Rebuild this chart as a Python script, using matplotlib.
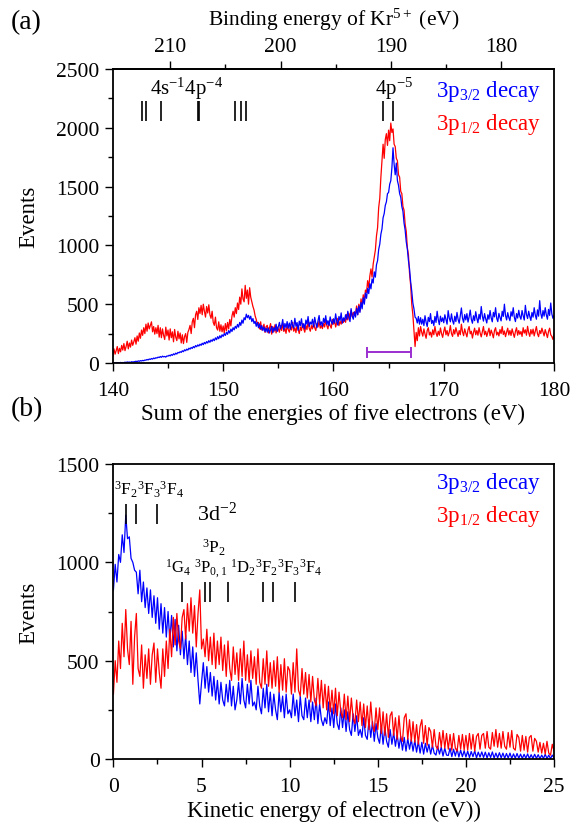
"""
Kr 3p decay spectra: sum energy of five electrons (a) and kinetic energy
of a single electron (b) for the 3p3/2 and 3p1/2 decay channels.
"""

import numpy as np
import matplotlib
matplotlib.use("Agg")
import matplotlib.pyplot as plt
from matplotlib.ticker import MultipleLocator


# ---- panel (a): sum of energies, 140..180 eV in 0.1 eV steps ----
sum_energy = np.linspace(140.0, 180.0, 401)

sum_red = [
    60, 120, 75, 105, 140, 80, 125, 95, 150, 110,
    165, 105, 140, 185, 120, 170, 135, 195, 150, 180,
    215, 160, 230, 185, 255, 210, 280, 235, 300, 250,
    330, 270, 340, 290, 320, 350, 265, 310, 245, 300,
    250, 320, 220, 300, 215, 290, 235, 200, 305, 230,
    280, 195, 290, 215, 265, 180, 285, 220, 190, 270,
    205, 255, 170, 240, 165, 225, 250, 175, 260, 285,
    320, 250, 350, 380, 300, 410, 440, 370, 470, 420,
    490, 410, 500, 440, 390, 480, 425, 495, 410, 380,
    440, 345, 320, 390, 300, 280, 350, 270, 325, 265,
    315, 255, 335, 275, 345, 290, 370, 315, 400, 440,
    390, 470, 420, 510, 455, 560, 500, 630, 545, 520,
    660, 550, 620, 500, 640, 560, 520, 480, 450, 400,
    370, 330, 345, 290, 350, 280, 300, 330, 260, 310,
    320, 255, 300, 335, 245, 310, 265, 325, 255, 305,
    290, 262, 318, 276, 340, 268, 296, 252, 318, 284,
    262, 310, 280, 346, 270, 300, 258, 322, 286, 250,
    306, 276, 334, 292, 262, 318, 284, 352, 296, 270,
    318, 290, 348, 300, 276, 336, 306, 360, 296, 318,
    292, 338, 306, 366, 318, 290, 352, 318, 296, 370,
    330, 360, 306, 346, 380, 318, 356, 330, 372, 344,
    380, 346, 412, 366, 424, 380, 446, 392, 430, 406,
    420, 485, 410, 500, 440, 545, 480, 580, 520, 620,
    600, 700, 640, 740, 800, 730, 840, 900, 960, 1080,
    1150, 1320, 1400, 1580, 1720, 1860, 1740, 1900, 1950, 1850,
    1980, 1890, 2040, 1960, 1990, 1860, 1840, 1740, 1720, 1600,
    1580, 1460, 1440, 1330, 1300, 1180, 1120, 980, 920, 760,
    660, 500, 410, 280, 140, 260, 190, 300, 230, 310,
    262, 228, 290, 246, 210, 276, 300, 238, 262, 220,
    282, 240, 310, 256, 226, 270, 236, 298, 250, 218,
    268, 306, 240, 276, 230, 262, 318, 250, 226, 284,
    246, 300, 262, 226, 276, 240, 330, 266, 232, 290,
    254, 222, 282, 310, 248, 270, 212, 260, 296, 240,
    276, 236, 300, 254, 222, 268, 310, 240, 270, 226,
    262, 296, 232, 280, 250, 214, 276, 300, 238, 262,
    230, 284, 250, 310, 242, 272, 224, 262, 296, 238,
    276, 234, 290, 252, 218, 268, 300, 236, 276, 244,
    268, 226, 300, 254, 282, 236, 312, 258, 226, 284,
    246, 288, 230, 270, 310, 248, 224, 276, 250, 296,
    262, 230, 284, 250, 216, 268, 296, 240, 226, 200,
    250,
]

sum_blue = [
    0, 2, 0, 4, 1, 3, 0, 5, 2, 4,
    3, 7, 4, 9, 6, 8, 5, 11, 8, 10,
    12, 15, 11, 18, 14, 20, 17, 22, 19, 25,
    24, 30, 26, 34, 30, 38, 33, 42, 37, 45,
    42, 50, 46, 55, 48, 58, 52, 56, 50, 60,
    58, 66, 60, 72, 65, 78, 70, 84, 76, 90,
    86, 96, 90, 104, 96, 112, 104, 118, 110, 126,
    118, 132, 124, 140, 130, 148, 138, 154, 144, 160,
    150, 168, 156, 175, 163, 182, 170, 190, 176, 196,
    184, 204, 190, 214, 198, 224, 206, 232, 214, 240,
    226, 250, 234, 262, 244, 275, 255, 288, 268, 300,
    282, 312, 295, 328, 305, 345, 320, 365, 338, 385,
    368, 415, 385, 405, 372, 398, 352, 378, 336, 355,
    312, 345, 300, 332, 286, 318, 276, 306, 266, 296,
    262, 298, 255, 284, 312, 258, 300, 276, 330, 268,
    305, 345, 290, 318, 370, 282, 336, 300, 352, 296,
    340, 288, 362, 318, 296, 380, 312, 344, 278, 356,
    318, 376, 302, 334, 290, 365, 330, 395, 310, 348,
    330, 372, 306, 388, 338, 300, 360, 404, 322, 350,
    312, 380, 344, 402, 326, 360, 318, 392, 352, 330,
    376, 340, 418, 352, 322, 396, 362, 426, 338, 384,
    356, 410, 372, 440, 388, 352, 462, 398, 372, 436,
    390, 465, 410, 485, 430, 515, 460, 555, 500, 595,
    550, 635, 590, 675, 630, 715, 680, 775, 730, 835,
    870, 965, 1010, 1095, 1140, 1235, 1270, 1340, 1370, 1440,
    1450, 1520, 1550, 1660, 1830, 1690, 1600, 1700, 1550, 1510,
    1440, 1410, 1330, 1290, 1190, 1130, 1030, 970, 870, 800,
    690, 610, 510, 460, 390, 380, 340, 395, 330, 385,
    330, 372, 318, 402, 346, 310, 388, 352, 420, 336,
    362, 318, 396, 345, 440, 370, 326, 398, 352, 384,
    342, 410, 368, 330, 445, 382, 350, 418, 360, 330,
    398, 352, 430, 372, 338, 400, 468, 380, 346, 412,
    366, 420, 348, 392, 450, 372, 338, 402, 360, 436,
    380, 342, 414, 372, 480, 398, 356, 420, 376, 340,
    410, 372, 446, 384, 350, 430, 392, 470, 380, 352,
    422, 386, 358, 440, 396, 500, 404, 366, 428, 386,
    360, 436, 398, 470, 388, 352, 420, 382, 448, 396,
    372, 446, 402, 365, 490, 412, 378, 440, 396, 362,
    430, 390, 470, 408, 372, 452, 398, 530, 420, 380,
    446, 398, 470, 410, 372, 456, 404, 510, 418, 380,
    400,
]

# ---- panel (b): electron kinetic energy, 0..25 eV in 0.1 eV steps ----
kinetic_energy = np.linspace(0.0, 25.0, 251)

kin_blue = [
    860, 990, 900, 1040, 1000, 1140, 1050, 1240, 1120, 1130,
    1020, 1000, 960, 950, 840, 960, 800, 900, 770, 870,
    740, 860, 720, 830, 690, 820, 660, 790, 640, 770,
    620, 750, 600, 730, 570, 710, 550, 680, 530, 650,
    510, 630, 480, 600, 440, 570, 420, 540, 400, 280,
    390, 490, 360, 470, 340, 440, 320, 420, 300, 400,
    280, 390, 300, 270, 380, 290, 400, 270, 370, 250,
    300, 390, 280, 410, 300, 260, 380, 280, 400, 270,
    290, 250, 370, 270, 230, 360, 260, 380, 240, 340,
    220, 330, 250, 200, 340, 240, 320, 210, 330, 230,
    250, 210, 330, 220, 300, 190, 320, 220, 200, 310,
    210, 300, 190, 290, 200, 310, 180, 280, 200, 170,
    210, 180, 290, 170, 260, 160, 280, 180, 150, 260,
    160, 250, 140, 240, 150, 120, 230, 140, 220, 120,
    150, 110, 210, 120, 100, 200, 110, 190, 90, 180,
    110, 80, 170, 75, 160, 90, 60, 150, 75, 135,
    65, 125, 55, 115, 45, 110, 40, 105, 50, 100,
    40, 95, 35, 90, 30, 85, 25, 80, 35, 75,
    25, 70, 30, 20, 65, 25, 60, 15, 55, 20,
    18, 55, 12, 50, 15, 52, 10, 45, 12, 42,
    10, 40, 8, 38, 12, 42, 6, 35, 10, 36,
    8, 35, 5, 32, 8, 36, 5, 30, 6, 32,
    6, 30, 4, 28, 5, 30, 3, 26, 4, 28,
    4, 25, 3, 24, 4, 26, 2, 22, 3, 24,
    3, 22, 2, 20, 3, 24, 2, 20, 2, 20,
    5,
]

kin_red = [
    330, 500, 390, 600, 460, 690, 520, 760, 560, 480,
    700, 380, 620, 740, 460, 420, 580, 360, 530, 410,
    560, 380, 530, 590, 390, 560, 440, 360, 560, 420,
    600, 460, 660, 520, 720, 580, 740, 600, 560, 720,
    760, 610, 790, 650, 820, 640, 780, 570, 740, 860,
    560, 610, 520, 660, 500, 620, 480, 640, 460, 600,
    480, 620, 450, 580, 420, 600, 460, 400, 570, 430,
    540, 400, 560, 420, 600, 400, 530, 390, 550, 410,
    520, 380, 560, 390, 360, 510, 380, 550, 370, 490,
    360, 500, 370, 520, 340, 480, 350, 510, 340, 470,
    450, 330, 490, 340, 560, 350, 320, 460, 330, 440,
    310, 430, 290, 420, 300, 270, 410, 280, 400, 260,
    380, 250, 370, 240, 350, 230, 360, 220, 340, 240,
    210, 330, 200, 320, 190, 310, 210, 180, 300, 190,
    290, 170, 280, 160, 270, 150, 290, 170, 140, 260,
    150, 260, 130, 240, 120, 230, 110, 220, 240, 120,
    210, 100, 220, 110, 90, 210, 230, 100, 200, 90,
    190, 85, 175, 75, 165, 200, 80, 170, 70, 160,
    140, 60, 150, 65, 50, 135, 60, 145, 55, 130,
    50, 125, 45, 130, 55, 40, 120, 50, 125, 45,
    120, 45, 130, 50, 125, 40, 115, 130, 50, 120,
    130, 55, 140, 60, 50, 135, 65, 150, 60, 130,
    55, 140, 65, 50, 135, 60, 145, 55, 45, 125,
    110, 40, 120, 45, 115, 35, 110, 120, 40, 105,
    90, 35, 85, 30, 80, 25, 90, 30, 20, 75,
    40,
]

# level markers
levels_4s4p = [142.6, 143.05, 144.35, 147.75, 147.85, 151.07, 151.58, 152.06]
levels_4p5 = [164.46, 165.43]
levels_3F_upper = [0.70, 1.29, 2.50]
levels_3d_lower = [3.88, 5.20, 5.48, 6.49, 8.47, 9.08, 10.31]

# purple bracket under the 4p^-5 peak
bracket_lo, bracket_hi, bracket_y = 163.0, 167.0, 90

# binding energy = offset - sum energy
be_offset = 355.2

RED = "#ff0000"
BLUE = "#0000ff"
PURPLE = "#9b2fd0"

plt.rcParams["font.family"] = ["Liberation Serif", "DejaVu Serif"]
plt.rcParams["mathtext.fontset"] = "custom"
plt.rcParams["mathtext.rm"] = "Liberation Serif"
plt.rcParams["mathtext.it"] = "Liberation Serif:italic"
plt.rcParams["mathtext.bf"] = "Liberation Serif:bold"

TICK_FS = 15.5
LABEL_FS = 16.5
LEGEND_FS = 16.5


def style_axis(ax):
    """Outward ticks, thick frame, as in the original figure."""
    for side in ax.spines.values():
        side.set_linewidth(1.3)
    ax.tick_params(which="both", direction="out", top=False, right=False,
                   labelsize=TICK_FS, width=1.0, pad=4)
    ax.tick_params(axis="x", which="both", pad=7)
    ax.tick_params(which="major", length=6)
    ax.tick_params(which="minor", length=3.5)


def main():
    fig = plt.figure(figsize=(5.7, 8.28), dpi=100)

    # ---------------- (a) ----------------
    ax1 = fig.add_axes([0.198, 0.5604, 0.774, 0.3551])
    ax1.plot(sum_energy, sum_red, color=RED, lw=0.9)
    ax1.plot(sum_energy, sum_blue, color=BLUE, lw=0.9)
    ax1.set_xlim(140, 180)
    ax1.set_ylim(0, 2500)
    ax1.xaxis.set_major_locator(MultipleLocator(10))
    ax1.xaxis.set_minor_locator(MultipleLocator(5))
    ax1.yaxis.set_major_locator(MultipleLocator(500))
    ax1.yaxis.set_minor_locator(MultipleLocator(250))
    style_axis(ax1)
    ax1.set_xlabel("Sum of the energies of five electrons (eV)", fontsize=LABEL_FS, labelpad=2)
    ax1.set_ylabel("Events", fontsize=LABEL_FS, labelpad=12)

    top = ax1.secondary_xaxis("top", functions=(lambda s: be_offset - s,
                                                lambda b: be_offset - b))
    top.set_xticks([210, 200, 190, 180])
    top.set_xticks([205, 195, 185], minor=True)
    top.tick_params(which="both", direction="out", labelsize=TICK_FS, width=1.0, pad=3)
    top.tick_params(which="major", length=6)
    top.tick_params(which="minor", length=3.5)
    top.spines["top"].set_linewidth(1.3)
    top.set_xlabel("Binding energy of Kr$^{5+}$ (eV)", fontsize=TICK_FS, labelpad=9)

    ax1.vlines(levels_4s4p, 2060, 2230, color="black", lw=1.2)
    ax1.vlines(levels_4p5, 2060, 2230, color="black", lw=1.2)
    ax1.text(143.36, 2293, "4s$^{-1}$4p$^{-4}$", fontsize=15, ha="left", va="baseline")
    ax1.text(163.76, 2293, "4p$^{-5}$", fontsize=15, ha="left", va="baseline")
    ax1.text(178.8, 2273, "3p$_{3/2}$ decay", color=BLUE, fontsize=LEGEND_FS,
             ha="right", va="baseline")
    ax1.text(178.8, 1990, "3p$_{1/2}$ decay", color=RED, fontsize=LEGEND_FS,
             ha="right", va="baseline")

    ax1.plot([bracket_lo, bracket_hi], [bracket_y, bracket_y], color=PURPLE, lw=1.4)
    ax1.vlines([bracket_lo, bracket_hi], bracket_y - 45, bracket_y + 45,
               color=PURPLE, lw=1.4)

    # ---------------- (b) ----------------
    ax2 = fig.add_axes([0.199, 0.0821, 0.773, 0.3563])
    ax2.plot(kinetic_energy, kin_blue, color=BLUE, lw=0.9)
    ax2.plot(kinetic_energy, kin_red, color=RED, lw=0.9)
    ax2.set_xlim(0, 25)
    ax2.set_ylim(0, 1500)
    ax2.xaxis.set_major_locator(MultipleLocator(5))
    ax2.xaxis.set_minor_locator(MultipleLocator(2.5))
    ax2.yaxis.set_major_locator(MultipleLocator(500))
    ax2.yaxis.set_minor_locator(MultipleLocator(250))
    style_axis(ax2)
    ax2.set_xlabel("Kinetic energy of electron (eV))", fontsize=LABEL_FS, labelpad=3)
    ax2.set_ylabel("Events", fontsize=LABEL_FS, labelpad=12)

    ax2.vlines(levels_3F_upper, 1195, 1296, color="black", lw=1.2)
    ax2.vlines(levels_3d_lower, 798, 900, color="black", lw=1.2)
    ax2.text(0.05, 1347, "$^3$F$_2$$^3$F$_3$$^3$F$_4$", fontsize=12.5, ha="left", va="baseline")
    ax2.text(4.75, 1215, "3d$^{-2}$", fontsize=16, ha="left", va="baseline")
    ax2.text(5.03, 1052, "$^3$P$_2$", fontsize=12.5, ha="left", va="baseline")
    ax2.text(2.93, 950, "$^1$G$_4$ $^3$P$_{0,1}$ $^1$D$_2$$^3$F$_2$$^3$F$_3$$^3$F$_4$",
             fontsize=12, ha="left", va="baseline")
    ax2.text(24.26, 1378, "3p$_{3/2}$ decay", color=BLUE, fontsize=LEGEND_FS,
             ha="right", va="baseline")
    ax2.text(24.26, 1211, "3p$_{1/2}$ decay", color=RED, fontsize=LEGEND_FS,
             ha="right", va="baseline")

    fig.text(0.018, 0.973, "(a)", fontsize=20, va="center", ha="left")
    fig.text(0.018, 0.505, "(b)", fontsize=20, va="center", ha="left")

    fig.savefig("out.png", dpi=100)


if __name__ == "__main__":
    main()
